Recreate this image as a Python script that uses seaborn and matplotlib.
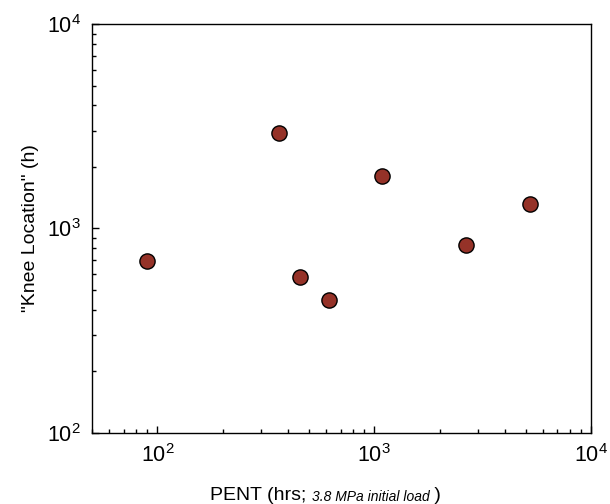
import pandas as pd
import matplotlib.pyplot as plt
import seaborn as sns

# Values
pent_hrs = [90, 362, 455, 621, 1086, 2642, 5235]
knee_h = [692, 2930, 578, 448, 1812, 827, 1316]

df = pd.DataFrame({'PENT': pent_hrs, 'Knee': knee_h})

sns.set_style('ticks')
plt.rcParams['font.family'] = ['Liberation Sans', 'DejaVu Sans']
plt.rcParams['mathtext.fontset'] = 'custom'
plt.rcParams['mathtext.rm'] = 'Liberation Sans'
plt.rcParams['text.color'] = 'black'
plt.rcParams['axes.labelcolor'] = 'black'
plt.rcParams['xtick.color'] = 'black'
plt.rcParams['ytick.color'] = 'black'

fig = plt.figure(figsize=(6.1, 5.04), dpi=100)
ax = fig.add_axes([0.151, 0.1415, 0.818, 0.8105])

sns.scatterplot(data=df, x='PENT', y='Knee', ax=ax, s=120,
                color='#953228', edgecolor='black', linewidth=1.0, zorder=3)

ax.set_xscale('log')
ax.set_yscale('log')
ax.set_xlim(50, 10000)
ax.set_ylim(100, 10000)

for s in ax.spines.values():
    s.set_color('black')
    s.set_linewidth(1.0)

ax.tick_params(which='major', direction='in', length=5, width=1,
               labelsize=15.5, top=False, right=False, pad=8)
ax.tick_params(which='minor', direction='in', length=3, width=1,
               top=False, right=False)
ax.set_xticks([100, 1000, 10000])
ax.set_xticklabels(['$10^2$', '$10^3$', '$10^4$'])
ax.set_yticks([100, 1000, 10000])
ax.set_yticklabels(['$10^2$', '$10^3$', '$10^4$'])

ax.set_ylabel('"Knee Location" (h)', fontsize=14, labelpad=6)
ax.set_xlabel('')

# x label built from pieces: plain + small italic + plain
t1 = fig.text(210 / 610, 1 - 500 / 504, 'PENT (hrs; ', fontsize=14,
              ha='left', va='baseline')
t2 = ax.annotate('3.8 MPa initial load', xy=(1, 0), xycoords=t1,
                 fontsize=10, style='italic', ha='left', va='bottom')
t3 = ax.annotate(' )', xy=(1, 0), xycoords=t2, fontsize=14,
                 ha='left', va='bottom', annotation_clip=False)

fig.savefig('out.png', dpi=100)
